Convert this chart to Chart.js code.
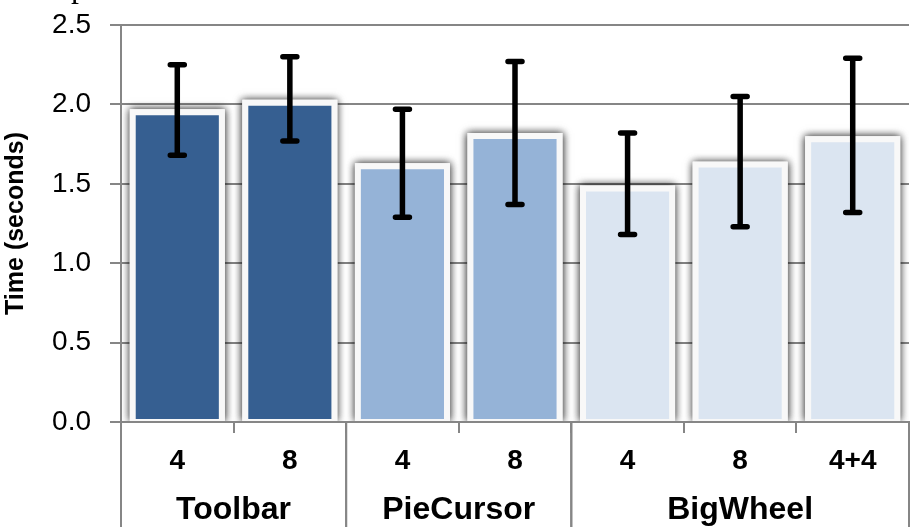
<!DOCTYPE html>
<html>
<head>
<meta charset="utf-8">
<script src="https://cdn.jsdelivr.net/npm/chart.js@4"></script>
<style>
  body { margin: 0; background: #fff; }
  #wrap { width: 916px; height: 532px; }
</style>
</head>
<body>
<div id="wrap"><canvas id="chart_time"></canvas></div>
<script>
// Data
const labels = ['4', '8', '4', '8', '4', '8', '4+4'];
const groupNames = ['Toolbar', 'PieCursor', 'BigWheel'];
const groupSizes = [2, 2, 3];
const meanTime = [1.97, 2.03, 1.63, 1.82, 1.49, 1.64, 1.80];
const errLow = [1.68, 1.77, 1.29, 1.37, 1.18, 1.23, 1.32];
const errHigh = [2.25, 2.30, 1.97, 2.27, 1.82, 2.05, 2.29];

// Colours, one per group
const groupColors = ['#365F91', '#95B3D7', '#DBE5F1'];
const axisGrey = '#868686';

const barColors = [];
groupSizes.forEach((n, g) => { for (let i = 0; i < n; i++) barColors.push(groupColors[g]); });

Chart.defaults.font.family = "'Liberation Sans', Arial, sans-serif";
Chart.defaults.color = '#000';

const barShadow = { // white glow box with soft shadow behind each bar
    id: 'barShadow',
    beforeDatasetsDraw(chart) {
        const ctx = chart.ctx;
        const area = chart.chartArea;
        ctx.save();
        ctx.beginPath();
        ctx.rect(area.left + 1, area.top - 20, area.right - area.left - 1, area.bottom - area.top + 19);
        ctx.clip();
        ctx.shadowColor = 'rgba(0,0,0,0.55)';
        ctx.shadowBlur = 8;
        ctx.fillStyle = '#F8F8F8';
        for (let pass = 0; pass < 2; pass++) {
            chart.getDatasetMeta(0).data.forEach(bar => {
                const p = bar.getProps(['x', 'y', 'base', 'width'], true);
                ctx.fillRect(p.x - p.width / 2, p.y, p.width, p.base - p.y);
            });
        }
        ctx.restore();
    }
};

const errorBars = { // black error bars with caps
    id: 'errorBars',
    afterDatasetsDraw(chart) {
        const ctx = chart.ctx;
        const yScale = chart.scales.y;
        ctx.save();
        ctx.strokeStyle = '#000';
        ctx.lineWidth = 5.5;
        ctx.lineCap = 'round';
        chart.getDatasetMeta(0).data.forEach((bar, i) => {
            const x = bar.x;
            const yLo = yScale.getPixelForValue(errLow[i]);
            const yHi = yScale.getPixelForValue(errHigh[i]);
            ctx.beginPath();
            ctx.moveTo(x, yLo);
            ctx.lineTo(x, yHi);
            ctx.moveTo(x - 7, yLo);
            ctx.lineTo(x + 7, yLo);
            ctx.moveTo(x - 7, yHi);
            ctx.lineTo(x + 7, yHi);
            ctx.stroke();
        });
        ctx.restore();
    }
};

const groupAxis = { // group separators and group names under the category labels
    id: 'groupAxis',
    afterDraw(chart) {
        const ctx = chart.ctx;
        const xScale = chart.scales.x;
        const half = (xScale.getPixelForValue(1) - xScale.getPixelForValue(0)) / 2;
        const top = chart.chartArea.bottom;
        ctx.save();
        ctx.strokeStyle = axisGrey;
        ctx.lineWidth = 2;
        ctx.fillStyle = '#000';
        ctx.font = "bold 32px 'Liberation Sans', Arial, sans-serif";
        ctx.textAlign = 'center';
        ctx.textBaseline = 'alphabetic';
        let start = 0;
        groupSizes.forEach((n, g) => {
            const left = xScale.getPixelForValue(start) - half;
            const right = xScale.getPixelForValue(start + n - 1) + half;
            ctx.beginPath();
            ctx.moveTo(left, top);
            ctx.lineTo(left, top + 105);
            ctx.moveTo(right, top);
            ctx.lineTo(right, top + 105);
            ctx.stroke();
            ctx.fillText(groupNames[g], (left + right) / 2, top + 97);
            start += n;
        });
        // cut-off title fragment at the very top
        ctx.font = "32px 'Liberation Serif', serif";
        ctx.textAlign = 'left';
        ctx.fillText('p', 71, -3);
        ctx.restore();
    }
};

const ctx = document.getElementById('chart_time').getContext('2d');
const timeChart = new Chart(ctx, {
    type: 'bar',
    data: {
        labels: labels,
        datasets: [{
            label: 'Time',
            data: meanTime,
            backgroundColor: barColors,
            borderColor: '#F8F8F8',
            borderWidth: { top: 6, left: 6, right: 6, bottom: 2 },
            borderSkipped: false,
            categoryPercentage: 1,
            barPercentage: 0.845
        }]
    },
    options: {
        responsive: true,
        maintainAspectRatio: false,
        animation: false,
        layout: { padding: { top: 25, right: 7, left: 0, bottom: 0 } },
        plugins: {
            legend: { display: false },
            tooltip: { enabled: false }
        },
        scales: {
            y: {
                min: 0,
                max: 2.5,
                ticks: {
                    stepSize: 0.5,
                    padding: 19,
                    font: { size: 28 },
                    callback: v => v.toFixed(1)
                },
                grid: { color: axisGrey, lineWidth: 2, tickLength: 11 },
                border: { color: axisGrey, width: 2 },
                title: {
                    display: true,
                    text: 'Time (seconds)',
                    font: { size: 25, weight: 'bold' },
                    padding: { top: 1, bottom: 0 }
                },
                afterFit: scale => {
                    scale.width = 121;
                    scale.paddingTop = 0;
                    scale.paddingBottom = 0;
                }
            },
            x: {
                ticks: {
                    padding: 11,
                    font: { size: 28, weight: 'bold' }
                },
                grid: { drawOnChartArea: false, offset: true, color: axisGrey, lineWidth: 2, tickLength: 11 },
                border: { color: axisGrey, width: 2 },
                afterFit: scale => {
                    scale.height = 110;
                    scale.paddingLeft = 0;
                    scale.paddingRight = 0;
                }
            }
        }
    },
    plugins: [barShadow, errorBars, groupAxis]
});
</script>
</body>
</html>
